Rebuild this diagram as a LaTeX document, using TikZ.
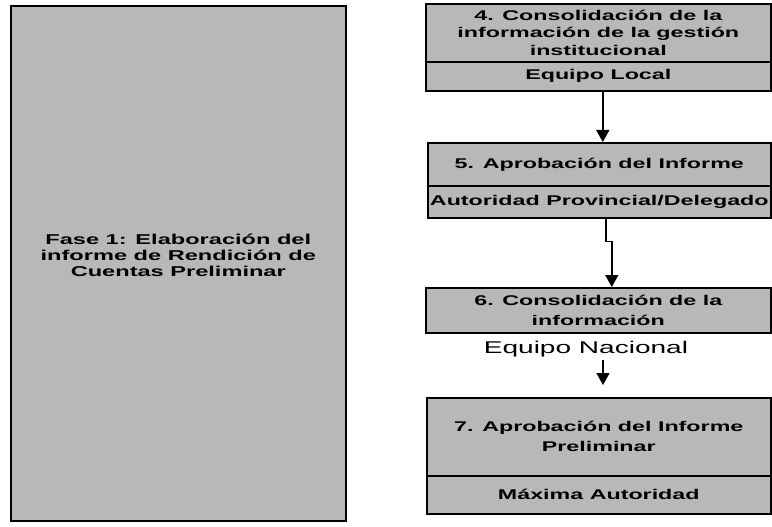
\documentclass[tikz,border=0pt]{standalone}
\usepackage{fontspec}
\setmainfont{Liberation Sans}
\newfontfamily\wideSans[FakeStretch=1.65]{Liberation Sans}
\usetikzlibrary{arrows.meta}
\tikzset{
  panel/.style={draw=black, line width=1.6pt, fill=black!28, anchor=north west,
    inner sep=0pt, align=center, font=\wideSans\bfseries\fontsize{14.1}{17.5}\selectfont},
  link/.style={line width=1.5pt, -{Triangle[length=12pt,width=13pt]}},
}
\begin{document}
\begin{tikzpicture}[x=1pt,y=-1pt]
\useasboundingbox (0,0) rectangle (772,527);
\fill[white] (0,0) rectangle (772,527);

\node[panel, minimum width=335pt, minimum height=515pt] (fase) at (10,5) {};
\node[align=center, inner sep=0pt, font=\wideSans\bfseries\fontsize{14.3}{16}\selectfont]
  (fasetext) at ([yshift=7.5pt]fase.center)
  {Fase 1: Elaboración del\\informe de Rendición de\\Cuentas Preliminar};

\node[panel, minimum width=345pt, minimum height=58pt] (p4) at (425,3)
  {4. Consolidación de la\\información de la gestión\\institucional};
\node[panel, minimum width=345pt, minimum height=29pt] (r4) at (425,61)
  {Equipo Local};

\node[panel, minimum width=343pt, minimum height=43pt] (p5) at (427,142)
  {5. Aprobación del Informe};
\node[panel, minimum width=343pt, minimum height=32pt] (r5) at (427,185)
  {Autoridad Provincial/Delegado};

\node[panel, minimum width=345pt, minimum height=45pt,
      font=\wideSans\bfseries\fontsize{14.1}{20}\selectfont] (p6) at (425,287)
  {6. Consolidación de la\\información};

\node[font=\wideSans\fontsize{17}{19}\selectfont] (eq) at (586,349) {Equipo Nacional};

\node[panel, minimum width=344pt, minimum height=78pt,
      font=\wideSans\bfseries\fontsize{14.1}{20}\selectfont] (p7) at (426,397)
  {7. Aprobación del Informe\\Preliminar};
\node[panel, minimum width=344pt, minimum height=38pt] (r7) at (426,475)
  {Máxima Autoridad};

\draw[link] ([xshift=4.5pt]r4.south) -- ([xshift=4.5pt]r4.south |- p5.north);
\draw[link] ([xshift=6.5pt]r5.south) -- ++(0,23) -| ([xshift=13.5pt]p6.north);
\coordinate (t3) at (603,385);
\draw[link] (eq.south -| t3) -- (t3);
\end{tikzpicture}
\end{document}
